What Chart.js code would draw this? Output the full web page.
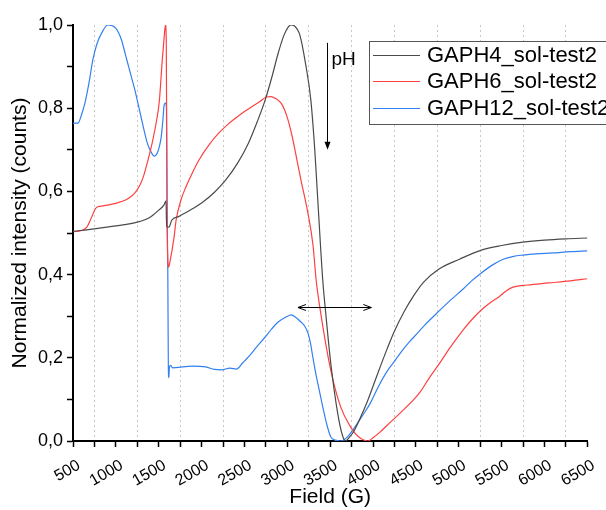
<!DOCTYPE html>
<html>
<head>
<meta charset="utf-8">
<script src="https://cdn.jsdelivr.net/npm/chart.js@4"></script>
<style>
  html, body { margin: 0; padding: 0; background: #fff; }
  #wrap { width: 606px; height: 510px; }
</style>
</head>
<body>
<div id="wrap"><canvas id="epr" width="606" height="510"></canvas></div>
<script>
// GAPH4
const fieldGaph4 = [500, 750, 1000, 1250, 1400, 1500, 1560, 1585, 1592, 1620, 1650, 1737, 1850, 2000, 2150, 2280, 2420, 2546, 2650, 2742, 2820, 2893, 2960, 3010, 3043, 3080, 3147, 3210, 3274, 3320, 3355, 3413, 3448, 3506, 3587, 3645, 3680, 3720, 3783, 3850, 3933, 4050, 4165, 4245, 4360, 4476, 4590, 4765, 5008, 5263, 5500, 5748, 6000, 6250, 6500];
const intensityGaph4 = [0.504, 0.510, 0.517, 0.526, 0.538, 0.555, 0.567, 0.577, 0.515, 0.514, 0.530, 0.540, 0.553, 0.572, 0.598, 0.627, 0.668, 0.716, 0.768, 0.820, 0.875, 0.932, 0.975, 0.995, 1.0, 0.998, 0.975, 0.91, 0.82, 0.70, 0.58, 0.387, 0.307, 0.188, 0.067, 0.012, 0.0, 0.008, 0.026, 0.055, 0.095, 0.160, 0.222, 0.262, 0.310, 0.350, 0.382, 0.413, 0.437, 0.459, 0.470, 0.478, 0.483, 0.486, 0.488];

// GAPH6
const fieldGaph6 = [500, 600, 662, 700, 731, 760, 789, 850, 1009, 1100, 1159, 1220, 1275, 1320, 1355, 1390, 1425, 1470, 1506, 1541, 1565, 1578, 1588, 1597, 1605, 1615, 1630, 1679, 1702, 1760, 1818, 1900, 1968, 2080, 2199, 2300, 2396, 2500, 2581, 2680, 2754, 2810, 2858, 2927, 2970, 3008, 3050, 3089, 3159, 3240, 3300, 3336, 3390, 3506, 3622, 3737, 3820, 3940, 4000, 4084, 4165, 4315, 4476, 4546, 4650, 4777, 4900, 5054, 5180, 5263, 5370, 5471, 5560, 5633, 5800, 6049, 6300, 6500];
const intensityGaph6 = [0.503, 0.506, 0.514, 0.530, 0.545, 0.558, 0.563, 0.565, 0.572, 0.578, 0.585, 0.596, 0.613, 0.635, 0.660, 0.688, 0.718, 0.765, 0.815, 0.915, 0.975, 1.0, 0.96, 0.55, 0.44, 0.418, 0.43, 0.49, 0.53, 0.58, 0.611, 0.648, 0.675, 0.710, 0.740, 0.760, 0.776, 0.792, 0.803, 0.816, 0.827, 0.828, 0.824, 0.812, 0.795, 0.772, 0.738, 0.70, 0.627, 0.548, 0.47, 0.387, 0.307, 0.171, 0.082, 0.034, 0.012, 0.0, 0.008, 0.022, 0.038, 0.067, 0.100, 0.117, 0.150, 0.187, 0.225, 0.268, 0.298, 0.315, 0.333, 0.347, 0.362, 0.370, 0.375, 0.380, 0.385, 0.390];

// GAPH12
const fieldGaph12 = [500, 558, 600, 639, 690, 731, 780, 835, 905, 985, 1030, 1066, 1110, 1159, 1220, 1275, 1320, 1367, 1410, 1448, 1483, 1510, 1529, 1550, 1563, 1580, 1590, 1598, 1606, 1612, 1618, 1625, 1640, 1660, 1772, 1887, 2049, 2150, 2234, 2330, 2407, 2480, 2546, 2650, 2742, 2820, 2893, 2985, 3043, 3100, 3159, 3200, 3240, 3270, 3297, 3325, 3355, 3413, 3460, 3506, 3560, 3622, 3702, 3760, 3818, 3890, 3968, 4060, 4165, 4245, 4320, 4431, 4476, 4600, 4743, 4900, 5054, 5150, 5263, 5400, 5517, 5640, 5748, 5900, 6095, 6300, 6500];
const intensityGaph12 = [0.764, 0.764, 0.785, 0.812, 0.865, 0.916, 0.955, 0.981, 1.0, 0.995, 0.982, 0.964, 0.930, 0.892, 0.845, 0.796, 0.755, 0.716, 0.695, 0.685, 0.692, 0.710, 0.731, 0.775, 0.808, 0.812, 0.80, 0.55, 0.40, 0.18, 0.152, 0.178, 0.182, 0.176, 0.178, 0.180, 0.178, 0.172, 0.171, 0.175, 0.173, 0.188, 0.202, 0.228, 0.25, 0.270, 0.286, 0.298, 0.303, 0.297, 0.286, 0.277, 0.26, 0.235, 0.202, 0.170, 0.139, 0.082, 0.040, 0.01, 0.002, 0.0, 0.01, 0.025, 0.043, 0.065, 0.091, 0.130, 0.168, 0.190, 0.212, 0.240, 0.250, 0.278, 0.307, 0.338, 0.366, 0.385, 0.404, 0.424, 0.437, 0.444, 0.447, 0.450, 0.452, 0.455, 0.457];

const seriesNames = ['GAPH4_sol-test2', 'GAPH6_sol-test2', 'GAPH12_sol-test2'];
const seriesColors = ['#4a4a4a', '#ff4040', '#3380f0'];

// annotation arrows (data units)
const phArrow = { field: 3460, top: 0.957, bottom: 0.70, label: 'pH' };
const shiftArrow = { from: 3124, to: 3980, level: 0.322 };

const FONT = "'Liberation Sans', Arial, sans-serif";

function toPoints(xs, ys) {
    return xs.map((x, i) => ({ x: x, y: ys[i] }));
}

const overlay = {
    id: 'overlay',
    afterDraw(chart) {
        const ctx = chart.ctx;
        const x = chart.scales.x, y = chart.scales.y;
        ctx.save();
        ctx.strokeStyle = '#000';
        ctx.fillStyle = '#000';
        ctx.lineWidth = 1;

        // pH arrow
        const px = Math.round(x.getPixelForValue(phArrow.field)) + 0.5;
        const pTop = y.getPixelForValue(phArrow.top);
        const pBot = y.getPixelForValue(phArrow.bottom);
        ctx.beginPath();
        ctx.moveTo(px, pTop);
        ctx.lineTo(px, pBot - 6);
        ctx.stroke();
        ctx.beginPath();
        ctx.moveTo(px - 3, pBot - 8);
        ctx.lineTo(px + 3, pBot - 8);
        ctx.lineTo(px, pBot);
        ctx.closePath();
        ctx.fill();
        ctx.font = '19px ' + FONT;
        ctx.textAlign = 'left';
        ctx.textBaseline = 'middle';
        ctx.fillText(phArrow.label, px + 4, pTop + 17);

        // double arrow
        const x1 = x.getPixelForValue(shiftArrow.from);
        const x2 = x.getPixelForValue(shiftArrow.to);
        const ly = Math.round(y.getPixelForValue(shiftArrow.level)) + 0.5;
        ctx.beginPath();
        ctx.moveTo(x1, ly);
        ctx.lineTo(x2, ly);
        ctx.moveTo(x1 + 8, ly - 3);
        ctx.lineTo(x1, ly);
        ctx.lineTo(x1 + 8, ly + 3);
        ctx.moveTo(x2 - 8, ly - 3);
        ctx.lineTo(x2, ly);
        ctx.lineTo(x2 - 8, ly + 3);
        ctx.stroke();

        // legend box
        ctx.fillStyle = '#fff';
        ctx.fillRect(369, 41, 250, 83);
        ctx.strokeStyle = '#555';
        ctx.strokeRect(369.5, 41.5, 250, 83);
        ctx.font = '22px ' + FONT;
        const rows = [55, 81, 108];
        seriesNames.forEach((name, i) => {
            ctx.strokeStyle = seriesColors[i];
            ctx.beginPath();
            ctx.moveTo(373, rows[i] + 0.5);
            ctx.lineTo(420, rows[i] + 0.5);
            ctx.stroke();
            ctx.fillStyle = '#000';
            ctx.fillText(name, 427, rows[i] + 1);
        });
        ctx.restore();
    }
};

const ctx = document.getElementById('epr').getContext('2d');
new Chart(ctx, {
    type: 'line',
    data: {
        datasets: [
            { label: seriesNames[0], data: toPoints(fieldGaph4, intensityGaph4), borderColor: seriesColors[0] },
            { label: seriesNames[1], data: toPoints(fieldGaph6, intensityGaph6), borderColor: seriesColors[1] },
            { label: seriesNames[2], data: toPoints(fieldGaph12, intensityGaph12), borderColor: seriesColors[2] }
        ]
    },
    options: {
        responsive: false,
        animation: false,
        parsing: false,
        elements: {
            point: { radius: 0 },
            line: { borderWidth: 1.2, cubicInterpolationMode: 'monotone', fill: false }
        },
        layout: { padding: { left: 0, top: 25, right: 14, bottom: 0 } },
        plugins: { legend: { display: false }, tooltip: { enabled: false } },
        scales: {
            x: {
                type: 'linear',
                min: 500,
                max: 6500,
                afterFit(scale) { scale.height = 69; },
                ticks: {
                    stepSize: 250,
                    autoSkip: false,
                    minRotation: 30,
                    maxRotation: 30,
                    labelOffset: 6,
                    padding: 9,
                    color: '#000',
                    font: { family: FONT, size: 16 },
                    callback: v => (v % 500 === 0 ? String(v) : '')
                },
                grid: {
                    color: c => (c.tick && c.tick.value % 500 === 0 ? 'rgba(0,0,0,0)' : '#c8c8c8'),
                    tickColor: '#000',
                    tickWidth: 1.5,
                    tickLength: 6,
                    lineWidth: 1
                },
                border: { color: '#000', width: 2, dash: [2, 3] },
                title: {
                    display: true,
                    text: 'Field (G)',
                    color: '#000',
                    font: { family: FONT, size: 21 },
                    padding: { top: 0, bottom: 0 }
                }
            },
            y: {
                min: 0,
                max: 1,
                afterFit(scale) { scale.width = 73; },
                ticks: {
                    stepSize: 0.1,
                    color: '#000',
                    padding: 4,
                    font: { family: FONT, size: 18 },
                    callback: v => (Math.round(v * 10) % 2 === 0 ? v.toFixed(1).replace('.', ',') : '')
                },
                grid: {
                    drawOnChartArea: false,
                    tickColor: '#000',
                    tickWidth: 1.5,
                    tickLength: 6
                },
                border: { color: '#000', width: 2 },
                title: {
                    display: true,
                    text: 'Normalized intensity (counts)',
                    color: '#000',
                    font: { family: FONT, size: 21 },
                    padding: { top: 8, bottom: 0 }
                }
            }
        }
    },
    plugins: [overlay]
});
</script>
</body>
</html>
